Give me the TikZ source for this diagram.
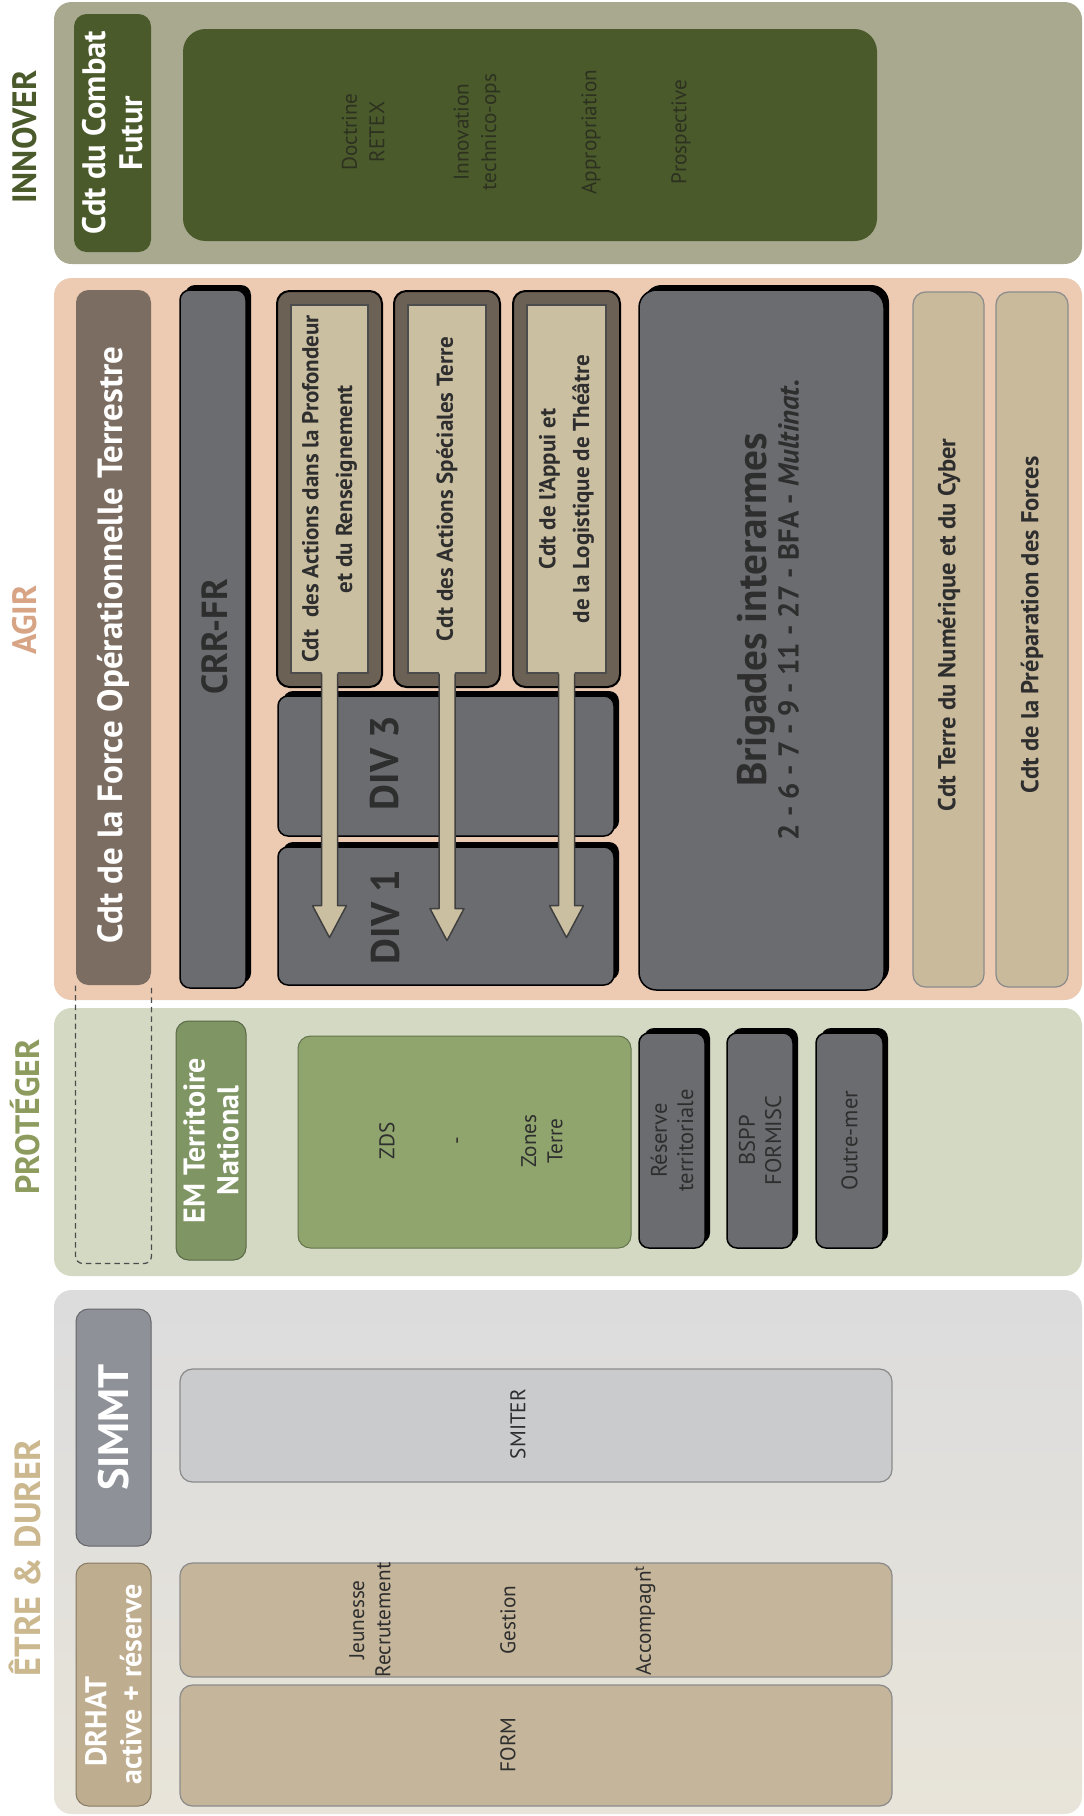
\documentclass[tikz,border=0pt]{standalone}
\usepackage{fontspec}
\setmainfont{PT Sans}
\usetikzlibrary{fit,shadows,calc}
\definecolor{innBg}{HTML}{A8A98E}
\definecolor{innDark}{HTML}{4B5A2B}
\definecolor{innTxt}{HTML}{2C3120}
\definecolor{agirBg}{HTML}{EDCAB2}
\definecolor{agirLab}{HTML}{D7A486}
\definecolor{fotC}{HTML}{7C6D62}
\definecolor{dgrey}{HTML}{6B6C70}
\definecolor{frameC}{HTML}{6C6155}
\definecolor{beigeIn}{HTML}{CBBFA2}
\definecolor{beigeC}{HTML}{C9BA9C}
\definecolor{protBg}{HTML}{D4D9C3}
\definecolor{protLab}{HTML}{8D9C5E}
\definecolor{emtnC}{HTML}{7F9564}
\definecolor{zdsC}{HTML}{8FA56D}
\definecolor{etreTop}{HTML}{DCDCDD}
\definecolor{etreBot}{HTML}{E8E4D9}
\definecolor{etreLab}{HTML}{CCB88E}
\definecolor{simmtC}{HTML}{8F9198}
\definecolor{smiterC}{HTML}{C9CBCD}
\definecolor{drhatC}{HTML}{BFAD8F}
\definecolor{tanC}{HTML}{C4B59B}
\definecolor{txtDark}{HTML}{2E2E2E}
\newcommand\bx[6]{\node[fit={(#3,#4) (#5,#6)}, inner sep=0pt, #2] (#1) {};}
\newcommand\arrw[2]{%
  \fill[beigeIn] ($(#1.south)+(-8,-4)$) -- ++(0,#2) -- ++(-9,0) -- ++(17,32) -- ++(17,-32) -- ++(-9,0) -- ++(0,-#2) -- cycle;
  \draw[arrline] ($(#1.south)+(-8,0)$) -- ++(0,#2-4) -- ++(-9,0) -- ++(17,32) -- ++(17,-32) -- ++(-9,0) -- ++(0,-#2+4);
}
\tikzset{
  panel/.style={rounded corners=7pt, draw=none},
  seclab/.style={rotate=90, font=\fontsize{13.5}{16}\selectfont\bfseries},
  rt/.style={rotate=90, align=center},
  shad/.style={drop shadow={shadow xshift=2pt, shadow yshift=2pt, fill=black, opacity=1}},
  darkbox/.style={fill=dgrey, draw=black, line width=0.6pt, rounded corners=4pt, shad},
  arrline/.style={draw=black!75, line width=0.6pt, line join=round},
  frm/.style={fill=frameC, draw=black, line width=0.8pt, rounded corners=5pt},
  frmin/.style={fill=beigeIn, draw=black!70, line width=0.5pt},
}
\begin{document}
\begin{tikzpicture}[x=0.4pt,y=-0.4pt]
\useasboundingbox (0,0) rectangle (1084,1816);
\fill[white] (0,0) rectangle (1084,1816);

% ---------------- INNOVER
\fill[innBg, panel] (54,2) rectangle (1082,264);
\node[seclab, text=innDark] (labInn) at (25,137) {INNOVER};
\bx{ccf}{fill=innDark, rounded corners=5pt}{74}{14}{151}{252}
\node[rt, text=white, font=\fontsize{13}{15}\selectfont\bfseries] (ccfT) at (ccf.center) {Cdt du Combat\\Futur};
\bx{innBig}{fill=innDark, rounded corners=9pt}{183}{29}{877}{241}
\begin{scope}[every node/.style={rt, text=innTxt, font=\fontsize{8.5}{11}\selectfont}]
\node (doc) at (363,132) {Doctrine\\RETEX};
\node (inno) at (477,132) {Innovation\\technico-ops};
\node (appr) at (591,132) {Appropriation};
\node (prosp) at (681,132) {Prospective};
\end{scope}

% ---------------- AGIR
\fill[agirBg, panel] (54,278) rectangle (1082,1000);
\node[seclab, text=agirLab] (labAgir) at (25,620) {AGIR};
\bx{fot}{fill=fotC, rounded corners=5pt}{76}{290}{151}{985}
\node[rt, text=white, font=\fontsize{14}{16}\selectfont\bfseries] (fotT) at (113,645) {Cdt de la Force Opérationnelle Terrestre};

\bx{crr}{darkbox}{180}{290}{246}{988}
\node[rt, text=txtDark, font=\fontsize{14.5}{17}\selectfont\bfseries] (crrT) at (215,637) {CRR-FR};

\bx{div3}{darkbox}{278}{696}{614}{836}
\bx{div1}{darkbox}{278}{847}{614}{985}
\node[rt, text=txtDark, font=\fontsize{16}{19}\selectfont\bfseries] (div3T) at (385,763) {DIV 3};
\node[rt, text=txtDark, font=\fontsize{16}{19}\selectfont\bfseries] (div1T) at (385,917) {DIV 1};

\bx{cmda}{frm}{277}{291}{382}{687}
\bx{cmdai}{frmin}{291}{305}{368}{673}
\bx{cmdb}{frm}{394}{291}{500}{687}
\bx{cmdbi}{frmin}{408}{305}{486}{673}
\bx{cmdc}{frm}{513}{291}{620}{687}
\bx{cmdci}{frmin}{527}{305}{606}{673}
\begin{scope}[every node/.style={rt, text=txtDark, font=\fontsize{9.2}{13.5}\selectfont\bfseries}]
\node (cmdaT) at (cmdai.center) {Cdt\ \ des Actions dans la Profondeur\\et du Renseignement};
\node (cmdbT) at (cmdbi.center) {Cdt des Actions Spéciales Terre};
\node (cmdcT) at (cmdci.center) {Cdt de l’Appui et\\de la Logistique de Théâtre};
\end{scope}

\bx{brig}{darkbox, rounded corners=7pt}{639}{290}{884}{990}
\node[rt, text=txtDark] (brigT) at (768,610) {{\fontsize{16.5}{19}\selectfont\bfseries Brigades interarmes}\\[1pt]
  {\fontsize{11.5}{13}\selectfont\bfseries 2 - 6 - 7 - 9 - 11 - 27 - BFA - \textit{Multinat.}}};

\bx{numc}{fill=beigeC, draw=black!45, line width=0.5pt, rounded corners=5pt}{913}{292}{984}{987}
\bx{prep}{fill=beigeC, draw=black!45, line width=0.5pt, rounded corners=5pt}{996}{292}{1068}{987}
\node[rt, text=txtDark, font=\fontsize{9.8}{12}\selectfont\bfseries] (numcT) at (949,625) {Cdt Terre du Numérique et du Cyber};
\node[rt, text=txtDark, font=\fontsize{9.8}{12}\selectfont\bfseries] (prepT) at (1032,625) {Cdt de la Préparation des Forces};

\arrw{cmdai}{236}
\arrw{cmdbi}{239}
\arrw{cmdci}{236}

% ---------------- PROTEGER
\fill[protBg, panel] (54,1008) rectangle (1082,1276);
\draw[black!70, dashed, dash pattern=on 2.2pt off 1.6pt, line width=0.5pt, rounded corners=3pt]
  (fot.south west) -- ++(0,278) -- ($(fot.south east)+(0,278)$) -- (fot.south east);
\node[seclab, text=protLab] (labProt) at (25,1117) {PROTÉGER};
\bx{emtn}{fill=emtnC, draw=emtnC!70!black, line width=0.4pt, rounded corners=5pt}{176}{1021}{246}{1260}
\node[rt, text=white, font=\fontsize{12}{13.5}\selectfont\bfseries] (emtnT) at (emtn.center) {EM Territoire\\National};
\bx{zds}{fill=zdsC, draw=zdsC!70!black, line width=0.4pt, rounded corners=5pt}{298}{1036}{631}{1248}
\begin{scope}[every node/.style={rt, text=txtDark, font=\fontsize{8.5}{10.5}\selectfont}]
\node (zdsT) at (387,1141) {ZDS};
\node (zdsD) at (460,1141) {-};
\node (zonT) at (542,1141) {Zones\\Terre};
\end{scope}
\bx{resv}{darkbox}{639}{1033}{705}{1248}
\bx{bspp}{darkbox}{727}{1033}{793}{1248}
\bx{outm}{darkbox}{816}{1033}{883}{1248}
\begin{scope}[every node/.style={rt, text=txtDark, font=\fontsize{9}{10.5}\selectfont}]
\node (resvT) at (resv.center) {Réserve\\territoriale};
\node (bsppT) at (bspp.center) {BSPP\\FORMISC};
\node (outmT) at (outm.center) {Outre-mer};
\end{scope}

% ---------------- ETRE & DURER
\shade[top color=etreTop, bottom color=etreBot, panel] (54,1290) rectangle (1082,1814);
\node[seclab, text=etreLab, font=\fontsize{14.5}{17}\selectfont\bfseries] (labEtre) at (25,1558) {ÊTRE \& DURER};
\bx{simmt}{fill=simmtC, draw=simmtC!70!black, line width=0.4pt, rounded corners=5pt}{76}{1309}{151}{1546}
\node[rt, text=white, font=\fontsize{17}{19}\selectfont\bfseries] (simmtT) at (simmt.center) {SIMMT};
\bx{smiter}{fill=smiterC, draw=black!45, line width=0.5pt, rounded corners=5pt}{180}{1369}{892}{1482}
\node[rt, text=txtDark, font=\fontsize{8.5}{10}\selectfont] (smiterT) at (518,1424) {SMITER};
\bx{drhat}{fill=drhatC, draw=drhatC!70!black, line width=0.4pt, rounded corners=5pt}{76}{1563}{151}{1806}
\node[rotate=90, align=left, text=white, font=\fontsize{12}{14}\selectfont\bfseries] (drhatT) at (drhat.center) {\hspace*{0.6em}DRHAT\\active + réserve};
\bx{jrga}{fill=tanC, draw=black!45, line width=0.5pt, rounded corners=5pt}{180}{1563}{892}{1677}
\bx{form}{fill=tanC, draw=black!45, line width=0.5pt, rounded corners=5pt}{180}{1685}{892}{1806}
\begin{scope}[every node/.style={rt, text=txtDark, font=\fontsize{8.5}{10.5}\selectfont}]
\node (jeunT) at (370,1620) {Jeunesse\\Recrutement};
\node (gestT) at (508,1620) {Gestion};
\node (accT) at (645,1620) {Accompagn\textsuperscript{t}};
\node (formT) at (508,1745) {FORM};
\end{scope}
\end{tikzpicture}
\end{document}
